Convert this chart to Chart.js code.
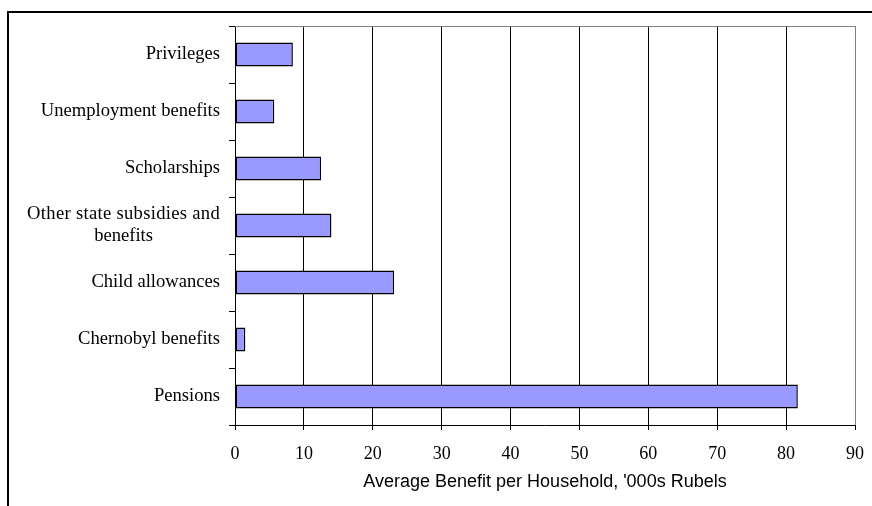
<!DOCTYPE html>
<html>
<head>
<meta charset="utf-8">
<script src="https://cdn.jsdelivr.net/npm/chart.js@4/dist/chart.umd.min.js"></script>
<style>
  html, body { margin: 0; padding: 0; background: #fff; }
  #wrap { width: 872px; height: 506px; position: relative; overflow: hidden; }
</style>
</head>
<body>
<div id="wrap"><canvas id="c" width="872" height="506"></canvas></div>
<script>
// Benefit types, top to bottom
const categories = [
  ['Privileges'],
  ['Unemployment benefits'],
  ['Scholarships'],
  ['Other state subsidies and', 'benefits'],
  ['Child allowances'],
  ['Chernobyl benefits'],
  ['Pensions']
];
// Average benefit per household, '000s rubels
const benefitValues = [8.4, 5.7, 12.5, 14.0, 23.1, 1.5, 81.7];
const xTickValues = [0, 10, 20, 30, 40, 50, 60, 70, 80, 90];
const xAxisTitle = "Average Benefit per Household, '000s Rubels";

const SERIF = '"Liberation Serif", "Times New Roman", serif';
const SANS = '"Liberation Sans", Arial, sans-serif';

// Outer frame, plot-area top edge and the category labels
const decorations = {
  id: 'decorations',
  beforeDraw(chart) {
    const ctx = chart.ctx;
    ctx.save();
    ctx.fillStyle = '#fff';
    ctx.fillRect(0, 0, chart.width, chart.height);
    ctx.restore();
  },
  afterDraw(chart) {
    const ctx = chart.ctx;
    const area = chart.chartArea;
    const yScale = chart.scales.y;
    ctx.save();
    // frame around the figure (left and top edges)
    ctx.fillStyle = '#000';
    ctx.fillRect(7, 11, chart.width - 7, 2);
    ctx.fillRect(7, 11, 2, chart.height - 11);
    // plot-area top border
    ctx.strokeStyle = '#808080';
    ctx.lineWidth = 1;
    ctx.beginPath();
    ctx.moveTo(area.left, area.top + 0.5);
    ctx.lineTo(area.right, area.top + 0.5);
    ctx.stroke();
    // category labels: right-aligned, extra lines centred under the first
    ctx.fillStyle = '#000';
    ctx.font = '18.6px ' + SERIF;
    ctx.textBaseline = 'middle';
    const rightX = yScale.right - 15;
    const lineGap = 22;
    categories.forEach((lines, i) => {
      const cy = yScale.getPixelForTick(i) - 0.5;
      ctx.letterSpacing = lines.length > 1 ? '0.3px' : '0px';
      const firstW = ctx.measureText(lines[0]).width;
      const centreX = rightX - firstW / 2;
      const y0 = cy - (lines.length - 1) * lineGap / 2;
      lines.forEach((t, j) => {
        if (j === 0) {
          ctx.textAlign = 'right';
          ctx.fillText(t, rightX, y0);
        } else {
          ctx.letterSpacing = '0px';
          ctx.textAlign = 'center';
          ctx.fillText(t, centreX, y0 + j * lineGap);
        }
      });
    });
    ctx.restore();
  }
};

new Chart(document.getElementById('c'), {
  type: 'bar',
  data: {
    labels: categories.map(l => l.join(' ')),
    datasets: [{
      data: benefitValues,
      backgroundColor: '#9999ff',
      borderColor: '#000',
      borderWidth: 1.5,
      borderSkipped: false,
      categoryPercentage: 1,
      barPercentage: 0.42
    }]
  },
  options: {
    indexAxis: 'y',
    responsive: false,
    animation: false,
    devicePixelRatio: 1,
    layout: { padding: { top: 26, right: 17, left: 0, bottom: 0 } },
    plugins: {
      legend: { display: false },
      tooltip: { enabled: false },
      title: { display: false }
    },
    scales: {
      x: {
        type: 'linear',
        min: 0,
        max: 90,
        afterBuildTicks(scale) {
          scale.ticks = xTickValues.map(v => ({ value: v }));
        },
        afterFit(scale) {
          scale.height = 81;
          scale.paddingLeft = 0;
          scale.paddingRight = 0;
        },
        grid: {
          drawOnChartArea: true,
          drawTicks: true,
          tickLength: 5,
          lineWidth: 1,
          color: ctx => (ctx.tick && ctx.tick.value === 90) ? '#808080' : '#000',
          tickColor: '#000'
        },
        border: { display: true, color: '#000', width: 1 },
        ticks: {
          color: '#000',
          padding: 13,
          maxRotation: 0,
          autoSkip: false,
          font: { family: SERIF, size: 18 }
        },
        title: {
          display: true,
          text: xAxisTitle,
          color: '#000',
          font: { family: SANS, size: 18 },
          padding: { top: 0, bottom: 13 }
        }
      },
      y: {
        type: 'category',
        afterFit(scale) { scale.width = 235; },
        grid: {
          offset: true,
          drawOnChartArea: false,
          drawTicks: true,
          tickLength: 6,
          color: '#000'
        },
        border: { display: true, color: '#000', width: 1 },
        ticks: { display: false }
      }
    }
  },
  plugins: [decorations]
});
</script>
</body>
</html>
